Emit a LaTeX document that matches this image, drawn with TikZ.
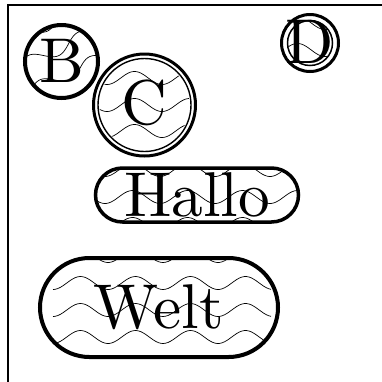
\documentclass[tikz,border=0pt]{standalone}
\usepackage{fontspec}
\setmainfont{lmroman10-regular}[Extension=.otf]
\begin{document}
\newcommand\mywaverow[4]{\draw[wave] plot[domain=#1:#2, samples=90, smooth] (\x,{#3+6.5*cos(6.54545*(\x-(#4)))});}
\begin{tikzpicture}[x=1pt,y=-1pt,
  wave/.style={line width=0.7pt},
  ring/.style={circle, draw, inner sep=0pt},
  pill/.style={rectangle, draw, inner sep=0pt},
  lbl/.style={inner sep=0pt, font=\fontsize{63.3}{63.3}\selectfont}]
\useasboundingbox (0,0) rectangle (382,381);
% frame
\coordinate (f1) at (8,382);
\coordinate (f2) at (8,5);
\coordinate (f3) at (383,5);
\draw[line width=1.6pt] (f1) -- (f2) -- (f3);
% waves B
\begin{scope}
  \clip (61.5,61.5) circle[radius=35];
  \begin{scope}[shift={(61.5,61.5)}, rotate=25]
    \foreach \yy in {-40,-13,14,41} {\mywaverow{-50}{50}{\yy}{0}}
  \end{scope}
\end{scope}
% waves C
\begin{scope}
  \clip (144.5,105) circle[radius=45];
  \foreach \yy in {52,78,105,131,158} {\mywaverow{90}{202}{\yy}{107}}
\end{scope}
% waves D
\begin{scope}
  \clip (310,43) circle[radius=22];
  \foreach \yy in {23,50,77} {\mywaverow{285}{335}{\yy}{325}}
\end{scope}
% waves Hallo
\begin{scope}
  \clip[rounded corners=27pt] (95.5,168) rectangle (298.5,222);
  \foreach \yy in {170,197,224} {\mywaverow{95}{299}{\yy}{105}}
\end{scope}
% waves Welt
\begin{scope}
  \clip[rounded corners=49.5pt] (40,258) rectangle (278,357);
  \foreach \yy in {256,283,310,337,364} {\mywaverow{53}{271}{\yy}{53}}
\end{scope}
% shapes
\node[ring, line width=4pt, minimum size=73pt] (B) at (61.5,61.5) {};
\node[lbl] (Bt) at (62,60.5) {B};
\node[ring, line width=3pt, minimum size=102pt] (C) at (144.5,105) {};
\node[ring, line width=1.4pt, minimum size=93pt] (Ci) at (144.5,105) {};
\node[lbl] (Ct) at (144.7,103.3) {C};
\node[ring, line width=3pt, minimum size=57pt] (D) at (310,43) {};
\node[ring, line width=1.5pt, minimum size=45pt] (Di) at (310,43) {};
\node[lbl] (Dt) at (310,41.5) {D};
\node[pill, lbl, line width=3.5pt, rounded corners=27pt, minimum width=203pt, minimum height=54pt] (H) at (197,195) {Hallo};
\node[pill, lbl, line width=4pt, rounded corners=49.5pt, minimum width=238pt, minimum height=99pt] (W) at (159,307.5) {Welt};
\end{tikzpicture}
\end{document}
